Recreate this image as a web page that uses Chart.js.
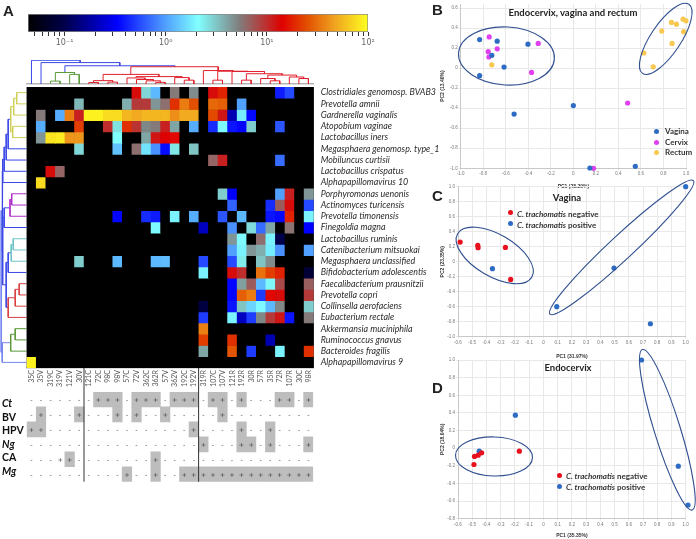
<!DOCTYPE html>
<html>
<head>
<meta charset="utf-8">
<script src="https://cdn.jsdelivr.net/npm/chart.js@4"></script>
<style>
html, body { margin: 0; padding: 0; background: #fff; width: 696px; height: 539px; overflow: hidden; }
canvas { position: absolute; }
.txt { position: absolute; font-family: Lato, sans-serif; color: #222; white-space: nowrap; line-height: 1; }
.letter { font: bold 15px "Liberation Sans", sans-serif; }
.head { font-weight: 700; font-size: 9.5px; transform: translateX(-50%); }
.key { font-weight: 700; font-size: 8px; color: #333; }
.dot { position: absolute; width: 5px; height: 5px; border-radius: 50%; }
</style>
</head>
<body>
<canvas id="colorbar" width="400" height="60" style="left:0;top:0"></canvas>
<canvas id="topTree" width="300" height="26" style="left:26px;top:60px"></canvas>
<canvas id="leftTree" width="28" height="290" style="left:0;top:84px"></canvas>
<canvas id="heat" width="424" height="304" style="left:26px;top:86px"></canvas>
<canvas id="table" width="330" height="120" style="left:0;top:368px"></canvas>
<canvas id="pcaB" width="256" height="190" style="left:440px;top:0"></canvas>
<canvas id="pcaC" width="256" height="182" style="left:440px;top:178px"></canvas>
<canvas id="pcaD" width="256" height="194" style="left:440px;top:345px"></canvas>

<div class="txt letter" style="left:3px;top:2px">A</div>
<div class="txt letter" style="left:432px;top:1px">B</div>
<div class="txt letter" style="left:432px;top:187px">C</div>
<div class="txt letter" style="left:432px;top:379px">D</div>

<div class="txt head" style="left:573px;top:8px">Endocervix, vagina and rectum</div>
<div class="txt head" style="left:567px;top:193px">Vagina</div>
<div class="txt head" style="left:568px;top:363px">Endocervix</div>

<div class="dot" style="left:654px;top:129px;background:#2e6cc4"></div>
<div class="txt key" style="left:665px;top:127px">Vagina</div>
<div class="dot" style="left:654px;top:140px;background:#e040f0"></div>
<div class="txt key" style="left:665px;top:138px">Cervix</div>
<div class="dot" style="left:654px;top:150px;background:#f8c850"></div>
<div class="txt key" style="left:665px;top:148px">Rectum</div>

<div class="dot" style="left:508px;top:210px;background:#e8101c"></div>
<div class="txt key" style="left:517px;top:210px"><i>C. trachomatis</i> negative</div>
<div class="dot" style="left:508px;top:221px;background:#2e6cc4"></div>
<div class="txt key" style="left:517px;top:221px"><i>C. trachomatis</i> positive</div>

<div class="dot" style="left:557px;top:473px;background:#e8101c"></div>
<div class="txt key" style="left:566px;top:472px"><i>C. trachomatis</i> negative</div>
<div class="dot" style="left:557px;top:484px;background:#2e6cc4"></div>
<div class="txt key" style="left:566px;top:483px"><i>C. trachomatis</i> positive</div>

<script>
// Samples along the heatmap, left to right
const samples = ['35C','35V','319C','319V','121V','30V','121C','72C','98C','98V','57C','72V','362C','362R','57V',
    '362V','192C','192V','319R','107C','107V','121R','192R','30R','57R','35R','72R','107R','30C','98R'];

// Taxa, top to bottom
const taxa = ['Clostridiales genomosp. BVAB3','Prevotella amnii','Gardnerella vaginalis','Atopobium vaginae',
    'Lactobacillus iners','Megasphaera genomosp. type_1','Mobiluncus curtisii','Lactobacillus crispatus',
    'Alphapapillomavirus 10','Porphyromonas uenonis','Actinomyces turicensis','Prevotella timonensis',
    'Finegoldia magna','Lactobacillus ruminis','Catenibacterium mitsuokai','Megasphaera unclassified',
    'Bifidobacterium adolescentis','Faecalibacterium prausnitzii','Prevotella copri','Collinsella aerofaciens',
    'Eubacterium rectale','Akkermansia muciniphila','Ruminococcus gnavus','Bacteroides fragilis','Alphapapillomavirus 9'];

// Abundance per taxon, {sample index: value}, anything missing is below the scale
const heatValues = [
    {11:13,12:2.8,13:1.2,15:5.5,17:4.8,19:13,20:18,26:.4,27:.55},
    {5:3.5,10:3.8,11:9,12:9,13:4.5,14:6,15:20,16:35,17:25,19:30,20:28,22:1},
    {1:5.5,3:1.1,4:35,5:11,6:90,7:90,8:75,9:75,10:55,11:50,12:55,13:55,14:55,15:40,16:50,17:50,19:24,20:12,21:.2,22:1.8,23:.35},
    {1:1.1,5:22,8:10,9:2.6,10:20,11:9.5,12:5,13:5.5,14:11,15:4,17:1.1,19:.45,20:2,21:.38,22:.34,23:3,26:.6},
    {1:4.5,2:80,3:85,4:42,5:42,9:2.1,12:4,13:12,14:14,15:15},
    {5:2.8,9:1.3,11:6,12:1.7,13:.9,14:.36,15:2.5,17:3.2},
    {19:6.5,20:11,26:.7},
    {2:13,3:6.5},
    {1:75},
    {20:3,21:.32,26:1,27:11,29:4.5},
    {21:.65,25:.45,26:7,27:13,29:.55},
    {9:.34,12:.45,13:.4,15:1.9,17:1.1,20:.6,22:1.2,25:.38,26:.35,27:18,29:1.9},
    {13:2,18:.22,21:.9,23:2.7,24:.7,25:4,27:5.8,29:.33},
    {21:4.5,22:2,24:6,25:1.9,26:.1},
    {21:1,22:1.9,23:4.5,24:3.8,25:1.8,26:.9,29:1},
    {5:3,9:1.2,13:1.2,14:1.25,18:.55,21:.55,22:2.4,24:3.2,25:4.8},
    {18:1.9,21:13,22:10,24:32,25:22,26:18,29:.08},
    {21:.34,22:4.2,23:7,24:1.2,25:2.2,26:8,29:6.8},
    {21:.34,22:28,23:35,24:.5,25:15,26:13,29:9},
    {18:.09,21:.38,22:3.2,23:1.5,24:2,25:1.2,26:5,29:3},
    {18:.5,21:1.9,22:.22,23:.5,24:5,25:9,26:12,27:.38,29:5.5},
    {18:36},
    {18:22,21:20,25:.2},
    {18:4,21:26,23:.5,26:1.9,29:20},
    {0:90}
];

// Colour scale ticks
const colorTicks = [.05,.06,.07,.08,.09,.1,.2,.3,.4,.5,.6,.7,.8,.9,1,2,3,4,5,6,7,8,9,10,20,30,40,50,60,70,80,90,100];
const colorMin = 0.0435;
const colorMax = 100;
const colorStops = [[-1.361,'#000000'],[-1,'#00004a'],[-.48,'#0000ff'],[0,'#50a0ff'],[.32,'#80ffff'],
    [.72,'#808080'],[1.15,'#e00000'],[1.4,'#e25000'],[1.66,'#f0a020'],[2,'#ffff20']];

// Tests below the heatmap
const tests = ['Ct','BV','HPV','Ng','CA','Mg'];
const ctPositive = [7,8,9,11,12,13,15,16,17,19,20,22,26,27,29];
const bvPositive = [1,5,9,11,14,20];
const hpvPositive = [0,1,17,22,25];
const ngPositive = [18,22,23,25,29];
const caPositive = [4,13];
const caUnshaded = [3];
const mgPositive = [10,13,16,17,18,19,20,21,22,23,24,25,26,27,28,29];

// Dendrogram links: [position a, height a, position b, height b, join height]
const topBlue = [[4,12,15.5,18,19],[1.5,0,9.75,19,22.3],[.5,0,5.6,22.3,24.7]];
const topGreen = [[2.5,0,3.5,0,3],[4.5,0,5.5,0,10],[3,3,5,10,12]];
const topRed = [[6.5,0,7.5,0,1.5],[8.5,0,9.5,0,2],[7,1.5,9,2,3.5],[13.5,0,14.5,0,1.7],[12.5,0,14,1.7,3.3],
    [11.5,0,13.25,3.3,4.7],[10.5,0,12.4,4.7,6.3],[16.5,0,17.5,0,4],[15.5,0,17,4,6.7],[11.45,6.3,16.25,6.7,7.7],
    [8,3.5,13.85,7.7,10],[22.5,0,23.5,0,4],[25.5,0,26.5,0,3.3],[24.5,0,26,3.3,5.7],[28.5,0,29.5,0,5.7],
    [27.5,0,29,5.7,7.3],[25.25,5.7,28.25,7.3,9.3],[23,4,26.75,9.3,10.7],[21.5,0,24.9,10.7,13],[19.5,0,20.5,0,4],
    [20,4,23.2,13,13.3],[18.5,0,21.6,13.3,14],[10.9,10,20.05,14,18]];
const leftYellow = [[.5,0,1.5,0,10],[1,10,2.5,0,13],[3.5,0,4.5,0,14],[1.75,13,4,14,16]];
const leftBlue = [[2.875,16,5.5,0,18.5],[4.19,18.5,6.5,0,20.5],[5.34,20.5,7.5,0,22.5],[6.42,22.5,8.5,0,24],
    [10.75,16.7,12.5,0,22.5],[14.75,15.5,16.5,0,18.5],[15.6,18.5,19.6,18.5,20.5],[11.6,22.5,17.6,20.5,24],
    [7.46,24,14.6,24,24.5]];
const leftPurple = [[9.5,0,10.5,0,15],[10,15,11.5,0,16.7]];
const leftTeal = [[13.5,0,14.5,0,13.5],[14,13.5,15.5,0,15.5]];
const leftRed = [[17.5,0,18.5,0,7.5],[18,7.5,19.5,0,11.5],[18.75,11.5,20.5,0,18.5]];
const leftGreen = [[21.5,0,22.5,0,11.5],[22,11.5,23.5,0,16]];
const leftPale = [[22.75,16,24.5,0,24.5],[11,24.5,23.6,24.5,25.5]];

// PCA scores
const bVagina = [[-.832,.285],[-.676,.269],[-.403,.239],[-.724,.128],[-.615,.01],[-.832,-.075],[-.526,-.459],[0,-.374],[.147,-.997],[.55,-.98]];
const bCervix = [[-.747,.311],[-.676,.193],[-.756,.164],[-.75,.111],[-.312,.246],[-.371,-.043],[.482,-.348],[.179,-1]];
const bRectum = [[-.724,.033],[.626,.151],[.709,.013],[.785,.37],[.876,.246],[.871,.456],[.915,.439],[.974,.489],[1,.472],[.979,.364]];
const cNegative = [[-.585,.262],[-.461,.218],[-.459,.187],[-.267,.191],[-.23,-.236]];
const cPositive = [[-.358,-.093],[.094,-.6],[.496,-.084],[.752,-.827],[1,1]];
const dNegative = [[-.169,-.034],[-.434,-.053],[-.458,-.079],[-.484,-.094],[-.488,-.185]];
const dPositive = [[-.451,-.034],[-.197,.374],[.69,1],[.948,-.204],[1.016,-.645]];

Chart.defaults.animation = false;
Chart.defaults.responsive = false;
Chart.defaults.plugins.legend.display = false;
Chart.defaults.plugins.tooltip.enabled = false;

function hexRgb(h) { return [1, 3, 5].map(i => parseInt(h.substr(i, 2), 16)); }

// Map a value to the colour bar
function colorFor(v) {
    if (!v) return '#000000';
    const t = Math.log10(v);
    for (let i = 1; i < colorStops.length; i++) {
        if (t <= colorStops[i][0]) {
            const [t0, c0] = colorStops[i - 1], [t1, c1] = colorStops[i];
            const f = (t - t0) / (t1 - t0), a = hexRgb(c0), b = hexRgb(c1);
            return `rgb(${a.map((n, k) => Math.round(n + (b[k] - n) * f)).join(',')})`;
        }
    }
    return colorStops[colorStops.length - 1][1];
}

// Colour bar
new Chart(document.getElementById('colorbar'), {
    type: 'bar',
    data: {
        labels: ['scale'],
        datasets: [{
            data: [[colorMin, colorMax]],
            borderColor: '#8a8a8a',
            borderWidth: 1,
            borderSkipped: false,
            backgroundColor: c => {
                const area = c.chart.chartArea;
                if (!area) return '#000';
                const g = c.chart.ctx.createLinearGradient(area.left, 0, area.right, 0);
                const low = Math.log10(colorMin), high = Math.log10(colorMax);
                colorStops.forEach(([t, col]) => g.addColorStop(Math.min(1, Math.max(0, (t - low) / (high - low))), col));
                return g;
            },
            barPercentage: 1,
            categoryPercentage: 1
        }]
    },
    options: {
        indexAxis: 'y',
        layout: { padding: { left: 28, right: 32, top: 14 } },
        scales: {
            y: { display: false },
            x: {
                type: 'logarithmic',
                min: colorMin,
                max: colorMax,
                afterBuildTicks: a => { a.ticks = colorTicks.map(v => ({ value: v })); },
                afterFit: a => { a.height = 28; },
                border: { display: false },
                grid: { drawOnChartArea: false, drawTicks: true, tickLength: 4, color: '#333' },
                ticks: {
                    autoSkip: false,
                    maxRotation: 0,
                    padding: 2,
                    color: '#666',
                    font: { family: 'DejaVu Sans', size: 8 },
                    callback: v => ({ .1: '10⁻¹', 1: '10⁰', 10: '10¹', 100: '10²' })[v] || ''
                }
            }
        }
    }
});

// One scatter line per colour, each link drawn as a U
function treeSet(links, color, flip) {
    const pts = [];
    links.forEach(([a, ha, b, hb, h]) => {
        const add = (p, q) => pts.push(flip ? { x: q, y: p } : { x: p, y: q });
        add(a, ha); add(a, h); add(b, h); add(b, hb);
        pts.push({ x: NaN, y: NaN });
    });
    return { data: pts, borderColor: color, borderWidth: 1, showLine: true, pointRadius: 0, spanGaps: false };
}

new Chart(document.getElementById('topTree'), {
    type: 'scatter',
    data: { datasets: [treeSet(topRed, '#e0202c'), treeSet(topGreen, '#5a9a3a'), treeSet(topBlue, '#3a48e6')] },
    options: {
        layout: { padding: { left: .7, right: 12.8, top: 0, bottom: 1 } },
        scales: {
            x: { type: 'linear', min: 0, max: 30, position: 'bottom', grid: { display: false }, ticks: { display: false },
                border: { color: '#b5b5b5', width: 1.5 }, afterFit: a => { a.height = 1; } },
            y: { min: 0, max: 25, display: false }
        }
    }
});

new Chart(document.getElementById('leftTree'), {
    type: 'scatter',
    data: { datasets: [
        treeSet(leftYellow, '#cfcf55', true), treeSet(leftPurple, '#b030c8', true), treeSet(leftTeal, '#70c4c4', true),
        treeSet(leftRed, '#d84040', true), treeSet(leftGreen, '#5a9a3a', true), treeSet(leftBlue, '#3a48e6', true),
        treeSet(leftPale, '#7484f0', true)
    ] },
    options: {
        layout: { padding: { left: 0, right: 1.3, top: 3, bottom: 6 } },
        scales: {
            x: { min: 0, max: 26.7, reverse: true, display: false },
            y: { min: 0, max: 25, reverse: true, display: false }
        }
    }
});

// Black behind the cells, so no seams show between them
const blackBack = {
    id: 'blackBack',
    beforeDatasetsDraw(chart) {
        const a = chart.chartArea;
        chart.ctx.fillStyle = '#000';
        chart.ctx.fillRect(a.left, a.top, a.width, a.height);
    }
};

// Heatmap, one stacked bar series per taxon
new Chart(document.getElementById('heat'), {
    type: 'bar',
    plugins: [blackBack],
    data: {
        labels: samples,
        datasets: taxa.map((name, r) => ({
            label: name,
            data: samples.map(() => 1),
            backgroundColor: samples.map((s, c) => colorFor(heatValues[r][c])),
            borderWidth: 0,
            barPercentage: 1,
            categoryPercentage: 1
        }))
    },
    options: {
        layout: { padding: { left: .7, top: 1 } },
        scales: {
            x: {
                stacked: true,
                grid: { display: false, drawTicks: false },
                border: { color: '#b5b5b5', width: 1.5 },
                afterFit: a => { a.height = 22; a.paddingLeft = 0; a.paddingRight = 0; },
                ticks: { autoSkip: false, minRotation: 90, maxRotation: 90, padding: 2, color: '#555',
                    font: { family: 'Lato', size: 7 } }
            },
            y: {
                stacked: true,
                reverse: true,
                min: 0,
                max: taxa.length,
                position: 'right',
                grid: { display: false, drawTicks: false },
                border: { display: false },
                afterBuildTicks: a => { a.ticks = taxa.map((t, i) => ({ value: i + .5 })); },
                afterFit: a => { a.width = 136.3; a.paddingTop = 0; a.paddingBottom = 0; },
                ticks: {
                    autoSkip: false,
                    padding: 7,
                    color: '#2b2b2b',
                    font: { family: 'Lato', size: 8.9, style: 'italic' },
                    callback: v => taxa[v - .5]
                }
            }
        }
    }
});

// Test table
const positives = [ctPositive, bvPositive, hpvPositive, ngPositive, caPositive, mgPositive];
const tableMarks = {
    id: 'tableMarks',
    afterDatasetsDraw(chart) {
        const { ctx, scales: { x, y }, chartArea: area } = chart;
        ctx.save();
        ctx.fillStyle = '#444';
        ctx.textAlign = 'center';
        ctx.textBaseline = 'middle';
        ctx.font = '6.5px "DejaVu Sans"';
        tests.forEach((t, r) => samples.forEach((s, c) => {
            const on = positives[r].includes(c) || (t === 'CA' && caUnshaded.includes(c));
            ctx.fillText(on ? '+' : '-', x.getPixelForValue(c), y.getPixelForValue(r + .5) + 1);
        }));
        // Group separators run up to the foot of the heatmap
        ctx.strokeStyle = '#333';
        ctx.lineWidth = 1;
        [5.5, 17.5].forEach(v => {
            const px = x.getPixelForValue(v);
            ctx.beginPath();
            ctx.moveTo(px, 0);
            ctx.lineTo(px, area.bottom);
            ctx.stroke();
        });
        ctx.restore();
    }
};

new Chart(document.getElementById('table'), {
    type: 'bar',
    plugins: [tableMarks],
    data: {
        labels: samples,
        datasets: tests.map((t, r) => ({
            label: t,
            data: samples.map(() => 1),
            backgroundColor: samples.map((s, c) => positives[r].includes(c) ? '#bdbdbd' : 'rgba(0,0,0,0)'),
            borderWidth: 0,
            barPercentage: 1,
            categoryPercentage: 1
        }))
    },
    options: {
        layout: { padding: { left: 2, right: 16.8, top: 24, bottom: 3 } },
        scales: {
            x: { stacked: true, display: false },
            y: {
                stacked: true,
                reverse: true,
                min: 0,
                max: tests.length,
                grid: { display: false, drawTicks: false },
                border: { display: false },
                // The row names sit a little tighter than the rows themselves
                afterBuildTicks: a => { a.ticks = [.77, 1.68, 2.6, 3.5, 4.42, 5.35].map(v => ({ value: v })); },
                afterFit: a => { a.width = 24.7; },
                ticks: {
                    autoSkip: false,
                    crossAlign: 'far',
                    padding: 0,
                    color: '#111',
                    font: c => ({ family: 'Lato', size: 10.5, weight: 'bold',
                        style: ['Ct', 'Ng', 'Mg'].includes(tests[c.index]) ? 'italic' : 'normal' }),
                    callback: (v, i) => tests[i]
                }
            }
        }
    }
});

// Outlines round the clusters
const clusterRings = {
    id: 'clusterRings',
    afterDatasetsDraw(chart, args, opts) {
        const { ctx, scales: { x, y } } = chart;
        ctx.save();
        ctx.strokeStyle = '#2f4f8f';
        ctx.lineWidth = 1.1;
        opts.rings.forEach(r => {
            ctx.beginPath();
            ctx.ellipse(x.getPixelForValue(r.x), y.getPixelForValue(r.y), r.long, r.short, r.turn, 0, Math.PI * 2);
            ctx.stroke();
        });
        ctx.restore();
    }
};

function points(list) { return list.map(([x, y]) => ({ x, y })); }

function pcaChart(id, sets, box) {
    return new Chart(document.getElementById(id), {
        type: 'scatter',
        plugins: [clusterRings],
        data: {
            datasets: sets.map(([list, color]) => ({
                data: points(list),
                backgroundColor: color,
                borderWidth: 0,
                pointRadius: 2.6,
                clip: false
            }))
        },
        options: {
            layout: { padding: { top: box.top, right: box.right } },
            plugins: { clusterRings: { rings: box.rings } },
            scales: {
                x: {
                    min: box.xMin,
                    max: 1,
                    grid: { color: '#e8e8e8', tickLength: 2 },
                    border: { color: '#c8c8c8' },
                    afterFit: a => { a.height = box.under; },
                    title: { display: true, text: box.xTitle, color: '#333', padding: { top: 2, bottom: 0 },
                        font: { family: 'Liberation Sans', size: 5, weight: 'bold' } },
                    ticks: { stepSize: box.xStep, autoSkip: false, maxRotation: 0, padding: 1, color: '#777',
                        font: { family: 'Liberation Sans', size: 4.5 } }
                },
                y: {
                    min: box.yMin,
                    max: box.yMax,
                    grid: { color: '#e8e8e8', tickLength: 2 },
                    border: { color: '#c8c8c8' },
                    afterFit: a => { a.width = box.beside; },
                    title: { display: true, text: box.yTitle, color: '#333', padding: 0,
                        font: { family: 'Liberation Sans', size: 5, weight: 'bold' } },
                    ticks: { stepSize: .2, includeBounds: false, autoSkip: false, padding: 1, color: '#777',
                        font: { family: 'Liberation Sans', size: 4.5 } }
                }
            }
        }
    });
}

pcaChart('pcaB', [[bVagina, '#2e6cc4'], [bCervix, '#e040f0'], [bRectum, '#f8c850']], {
    top: 1, right: 10, under: 21.7, beside: 20.7,
    xMin: -1, yMin: -1, yMax: .64, xStep: .2,
    xTitle: 'PC1 (28.29%)', yTitle: 'PC2 (13.40%)',
    rings: [
        { x: -.594, y: .121, long: 48, short: 29, turn: .06 },
        { x: .82, y: .292, long: 41.6, short: 15, turn: -.98 }
    ]
});

pcaChart('pcaC', [[cNegative, '#e8101c'], [cPositive, '#2e6cc4']], {
    top: 8.7, right: 10.3, under: 23.3, beside: 18,
    xMin: -.6, yMin: -1, yMax: 1, xStep: .1,
    xTitle: 'PC1 (31.97%)', yTitle: 'PC2 (23.35%)',
    rings: [
        { x: -.342, y: .084, long: 43, short: 21, turn: .53 },
        { x: .55, y: .191, long: 98, short: 12, turn: -.75 }
    ]
});

pcaChart('pcaD', [[dNegative, '#e8101c'], [dPositive, '#2e6cc4']], {
    top: 15, right: 10.3, under: 20.3, beside: 18,
    xMin: -.6, yMin: -.8, yMax: 1, xStep: .1,
    xTitle: 'PC1 (35.35%)', yTitle: 'PC2 (18.04%)',
    rings: [
        { x: -.347, y: -.094, long: 38.5, short: 19.5, turn: .03 },
        { x: .871, y: .208, long: 84, short: 13, turn: 1.27 }
    ]
});
</script>
</body>
</html>
